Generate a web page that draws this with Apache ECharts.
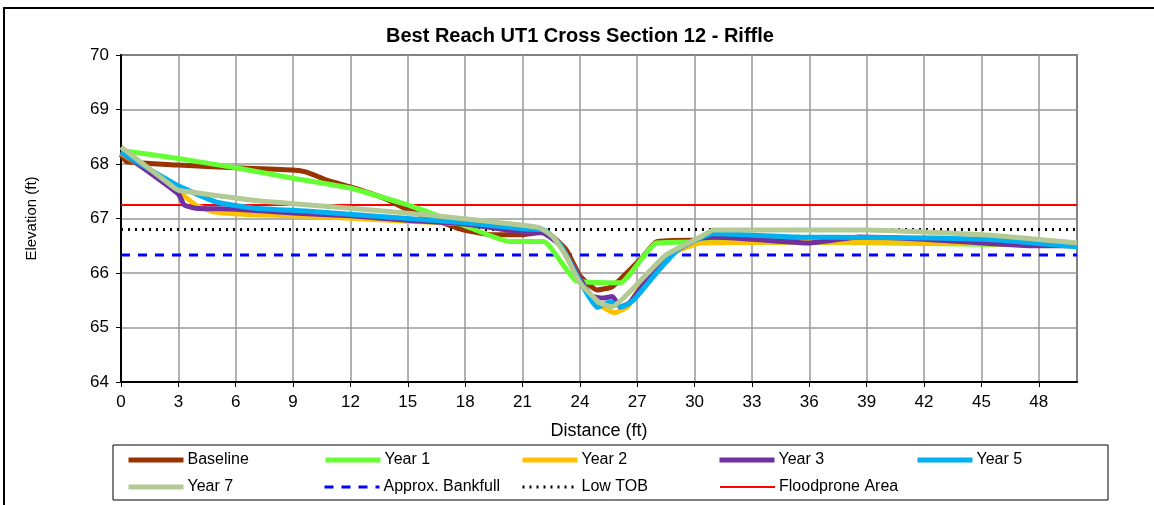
<!DOCTYPE html>
<html>
<head>
<meta charset="utf-8">
<script src="https://cdn.jsdelivr.net/npm/echarts@6/dist/echarts.min.js"></script>
<style>
  html, body { margin: 0; padding: 0; background: #fff; }
  #chart { width: 1154px; height: 505px; }
</style>
</head>
<body>
<div id="chart"></div>
<script>
// survey points, [distance ft, elevation ft]
const baseline = [[0, 68.17], [0.3, 68.04], [3, 67.98], [6, 67.93], [9, 67.89], [9.7, 67.85], [10.8, 67.7], [12, 67.58], [13.7, 67.38], [15, 67.16], [17.9, 66.79], [19.5, 66.7], [20.9, 66.7], [22.1, 66.75], [22.6, 66.66], [23.3, 66.42], [24, 65.95], [24.9, 65.69], [25.7, 65.75], [27.3, 66.3], [28, 66.57], [29.9, 66.6], [33, 66.6], [36, 66.57], [42, 66.58], [46, 66.55], [50, 66.5]]
const year1 = [[0, 68.25], [3, 68.1], [6, 67.93], [9, 67.74], [12, 67.56], [12.6, 67.5], [15, 67.25], [16.2, 67.1], [17.9, 66.88], [20.3, 66.58], [22.1, 66.58], [23.8, 65.86], [26.1, 65.82], [28, 66.55], [30.3, 66.57], [40, 66.55], [50, 66.5]]
const year2 = [[0, 68.2], [3, 67.5], [3.9, 67.25], [4.9, 67.12], [7, 67.07], [10, 67.04], [15, 66.95], [18, 66.9], [21, 66.83], [22.1, 66.78], [23, 66.5], [24, 65.9], [24.7, 65.5], [25.8, 65.27], [26.5, 65.38], [27.1, 65.72], [28.5, 66.3], [30.3, 66.55], [40, 66.57], [50, 66.5]]
const year3 = [[0, 68.22], [3, 67.45], [3.3, 67.25], [3.9, 67.19], [6, 67.17], [9, 67.1], [12, 67.05], [15, 66.97], [18, 66.9], [21, 66.75], [22.1, 66.73], [23, 66.5], [24, 65.9], [24.6, 65.58], [25.2, 65.54], [25.7, 65.57], [26.1, 65.38], [26.6, 65.45], [28.3, 66.24], [30.1, 66.62], [31, 66.66], [33, 66.62], [36, 66.55], [38.6, 66.66], [42, 66.62], [47.7, 66.5], [50, 66.5]]
const year5 = [[0, 68.22], [0.3, 68.15], [3, 67.6], [5, 67.3], [7, 67.19], [10, 67.13], [15, 67.0], [18, 66.92], [21, 66.81], [22.2, 66.78], [23, 66.5], [24, 65.85], [24.9, 65.37], [25.6, 65.47], [26.2, 65.38], [26.8, 65.5], [28, 66.0], [29.2, 66.45], [31, 66.72], [35.5, 66.66], [42.5, 66.64], [46, 66.6], [50, 66.48]]
const year7 = [[0, 68.31], [2.8, 67.56], [3, 67.52], [7, 67.33], [12, 67.19], [16.2, 67.06], [20.9, 66.88], [21.9, 66.83], [22.6, 66.66], [23.3, 66.3], [24, 65.82], [25.05, 65.45], [25.7, 65.38], [26.6, 65.65], [28.5, 66.33], [30.3, 66.66], [31, 66.79], [39, 66.79], [45.1, 66.7], [50, 66.55]]
// reference elevations
const bankfull = [[0, 66.33], [50, 66.33]]
const lowTob = [[0, 66.8], [50, 66.8]]
const floodprone = [[0, 67.25], [50, 67.25]]

const font = 'Liberation Sans, Arial, sans-serif'

const chart = echarts.init(document.getElementById('chart'))

// one entry per legend slot: name, colour, width, dash, position
const items = [
  { name: 'Baseline', data: baseline, color: '#993300', width: 5, type: 'solid', left: 126, top: 452 },
  { name: 'Year 1', data: year1, color: '#66FF33', width: 5, type: 'solid', left: 323, top: 452 },
  { name: 'Year 2', data: year2, color: '#FFC000', width: 5, type: 'solid', left: 520, top: 452 },
  { name: 'Year 3', data: year3, color: '#7030A0', width: 5, type: 'solid', left: 717, top: 452 },
  { name: 'Year 5', data: year5, color: '#00B0F0', width: 5, type: 'solid', left: 915, top: 452 },
  { name: 'Year 7', data: year7, color: '#B3CA95', width: 5, type: 'solid', left: 126, top: 479 },
  { name: 'Approx. Bankfull', data: bankfull, color: '#0000FF', width: 3, type: [9, 8], left: 323, top: 479 },
  { name: 'Low TOB', data: lowTob, color: '#000000', width: 3, type: [2, 5], left: 521, top: 479 },
  { name: 'Floodprone Area', data: floodprone, color: '#FF0000', width: 2, type: 'solid', left: 719, top: 479 }
]

const seriesArr = items.map((it, i) => {
  return {
    name: it.name,
    type: 'line',
    data: it.data,
    symbol: 'none',
    smooth: i < 6 ? 0.15 : false,
    z: i < 6 ? 3 + i : 2,
    lineStyle: { color: it.color, width: it.width, type: it.type },
    itemStyle: { color: it.color },
    animation: false
  }
})

const legendArr = items.map((it) => {
  return {
    data: [it.name],
    left: it.left,
    top: it.top,
    padding: 0,
    itemWidth: 55,
    itemHeight: 14,
    itemGap: 4,
    itemStyle: { opacity: 0 },
    lineStyle: { width: it.width, type: it.type, color: it.color },
    textStyle: { fontFamily: font, fontSize: 16, color: '#000', padding: [0, 0, 0, -1] },
    selectedMode: false
  }
})

const option = {
  backgroundColor: '#fff',
  animation: false,
  title: {
    text: 'Best Reach UT1 Cross Section 12 - Riffle',
    left: 386,
    top: 26,
    padding: 0,
    textStyle: { fontFamily: font, fontSize: 20, fontWeight: 'bold', color: '#000' }
  },
  grid: {
    left: 121,
    right: 77,
    top: 55,
    bottom: 123,
    show: true,
    borderColor: '#000',
    borderWidth: 1.5
  },
  legend: legendArr,
  xAxis: {
    type: 'value',
    min: 0,
    max: 50,
    interval: 3,
    name: 'Distance (ft)',
    nameLocation: 'middle',
    nameGap: 40,
    nameTextStyle: { fontFamily: font, fontSize: 18, color: '#000' },
    axisLine: { show: true, onZero: false, lineStyle: { color: '#000', width: 2 } },
    axisTick: { show: true, inside: false, length: 5, lineStyle: { color: '#000' } },
    axisLabel: {
      fontFamily: font,
      fontSize: 17,
      color: '#000',
      margin: 12,
      showMaxLabel: false,
      formatter: (v) => (v % 3 === 0 ? String(v) : '')
    },
    splitLine: { show: true, lineStyle: { color: '#999', width: 1.5 } }
  },
  yAxis: {
    type: 'value',
    min: 64,
    max: 70,
    interval: 1,
    name: 'Elevation (ft)',
    nameLocation: 'middle',
    nameGap: 82,
    nameTextStyle: { fontFamily: font, fontSize: 15, color: '#000' },
    axisLine: { show: true, lineStyle: { color: '#000', width: 2 } },
    axisTick: { show: true, length: 5, lineStyle: { color: '#000' } },
    axisLabel: { fontFamily: font, fontSize: 17, color: '#000', margin: 12 },
    splitLine: { show: true, lineStyle: { color: '#999', width: 1.5 } }
  },
  graphic: [
    // legend box
    {
      type: 'rect',
      shape: { x: 113, y: 445, width: 995, height: 55 },
      style: { fill: 'none', stroke: '#000', lineWidth: 1 },
      z: 0
    },
    // outer chart frame
    {
      type: 'polyline',
      shape: { points: [[4, 505], [4, 8], [1154, 8]] },
      style: { fill: 'none', stroke: '#000', lineWidth: 2 },
      z: 0
    }
  ],
  series: seriesArr
}

chart.setOption(option)
</script>
</body>
</html>
